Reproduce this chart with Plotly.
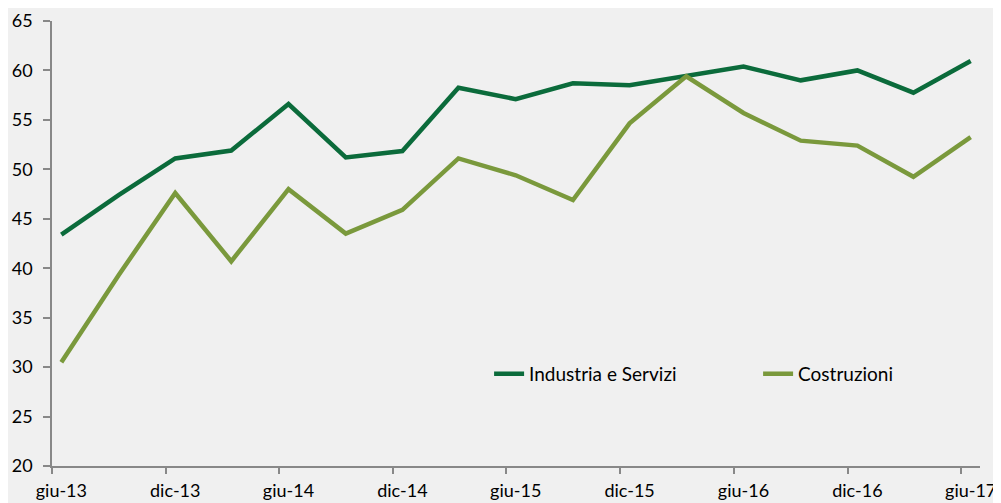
import plotly.graph_objects as go

# Quarterly periods (year-month) and their Italian labels
periods = ["2013-06", "2013-09", "2013-12", "2014-03", "2014-06", "2014-09",
           "2014-12", "2015-03", "2015-06", "2015-09", "2015-12", "2016-03",
           "2016-06", "2016-09", "2016-12", "2017-03", "2017-06"]
labels = ["giu-13", "set-13", "dic-13", "mar-14", "giu-14", "set-14",
          "dic-14", "mar-15", "giu-15", "set-15", "dic-15", "mar-16",
          "giu-16", "set-16", "dic-16", "mar-17", "giu-17"]

industria = [43.4, 47.4, 51.1, 51.9, 56.6, 51.2, 51.85, 58.25, 57.1, 58.7,
             58.5, 59.4, 60.4, 59.0, 60.0, 57.75, 60.95]
costruzioni = [30.5, 39.3, 47.6, 40.7, 48.0, 43.5, 45.9, 51.1, 49.4, 46.9,
               54.65, 59.4, 55.7, 52.9, 52.4, 49.25, 53.25]

y_ticks = [20, 25, 30, 35, 40, 45, 50, 55, 60, 65]

# Excel-style date axis: point in middle of month, tick mark at month start
x_mid = [p + "-16" for p in periods]
x_start = [p + "-01" for p in periods]

DARK = "#0b6b3b"
LIGHT = "#7a993c"
FONT = "Lato"
FS = 18

fig = go.Figure()
fig.add_trace(go.Scatter(x=x_mid, y=industria, mode="lines",
                         name="Industria e Servizi",
                         line=dict(color=DARK, width=4.5)))
fig.add_trace(go.Scatter(x=x_mid, y=costruzioni, mode="lines",
                         name="Costruzioni",
                         line=dict(color=LIGHT, width=4.5)))

# page body has an 8px default margin: size the figure to fit the window
fig.update_layout(
    width=993, height=495,
    margin=dict(l=44, r=21, t=13, b=37, autoexpand=False),
    paper_bgcolor="#f0f0f0", plot_bgcolor="#f0f0f0",
    font=dict(family=FONT, size=FS, color="#000000"),
    showlegend=True,
    legend=dict(orientation="h", x=0.471, y=0.207, xanchor="left",
                yanchor="middle", bgcolor="rgba(0,0,0,0)",
                font=dict(family=FONT, size=19, color="#000000"),
                itemwidth=30, entrywidth=224, entrywidthmode="pixels",
                tracegroupgap=0),
)

fig.update_xaxes(
    type="date",
    range=["2013-06-01", "2017-07-01"],
    automargin=False,
    tickmode="array",
    tickvals=x_mid[::2], ticktext=labels[::2],
    ticks="", showgrid=False, zeroline=False,
    showline=True, linecolor="#888888", linewidth=1.5,
    ticklabelstandoff=8,
    minor=dict(tickmode="array", tickvals=x_start[::2], ticks="outside",
               ticklen=6, tickcolor="#888888", tickwidth=1.5, showgrid=False),
    tickfont=dict(family=FONT, size=FS, color="#000000"),
)
fig.update_yaxes(
    range=[20, 65],
    automargin=False,
    tickmode="array", tickvals=y_ticks,
    ticks="outside", ticklen=7, tickcolor="#888888", tickwidth=1.5,
    showgrid=False, zeroline=False,
    showline=True, linecolor="#888888", linewidth=1.5,
    ticklabelstandoff=7,
    tickfont=dict(family=FONT, size=FS, color="#000000"),
)

fig.write_html("out.html")
